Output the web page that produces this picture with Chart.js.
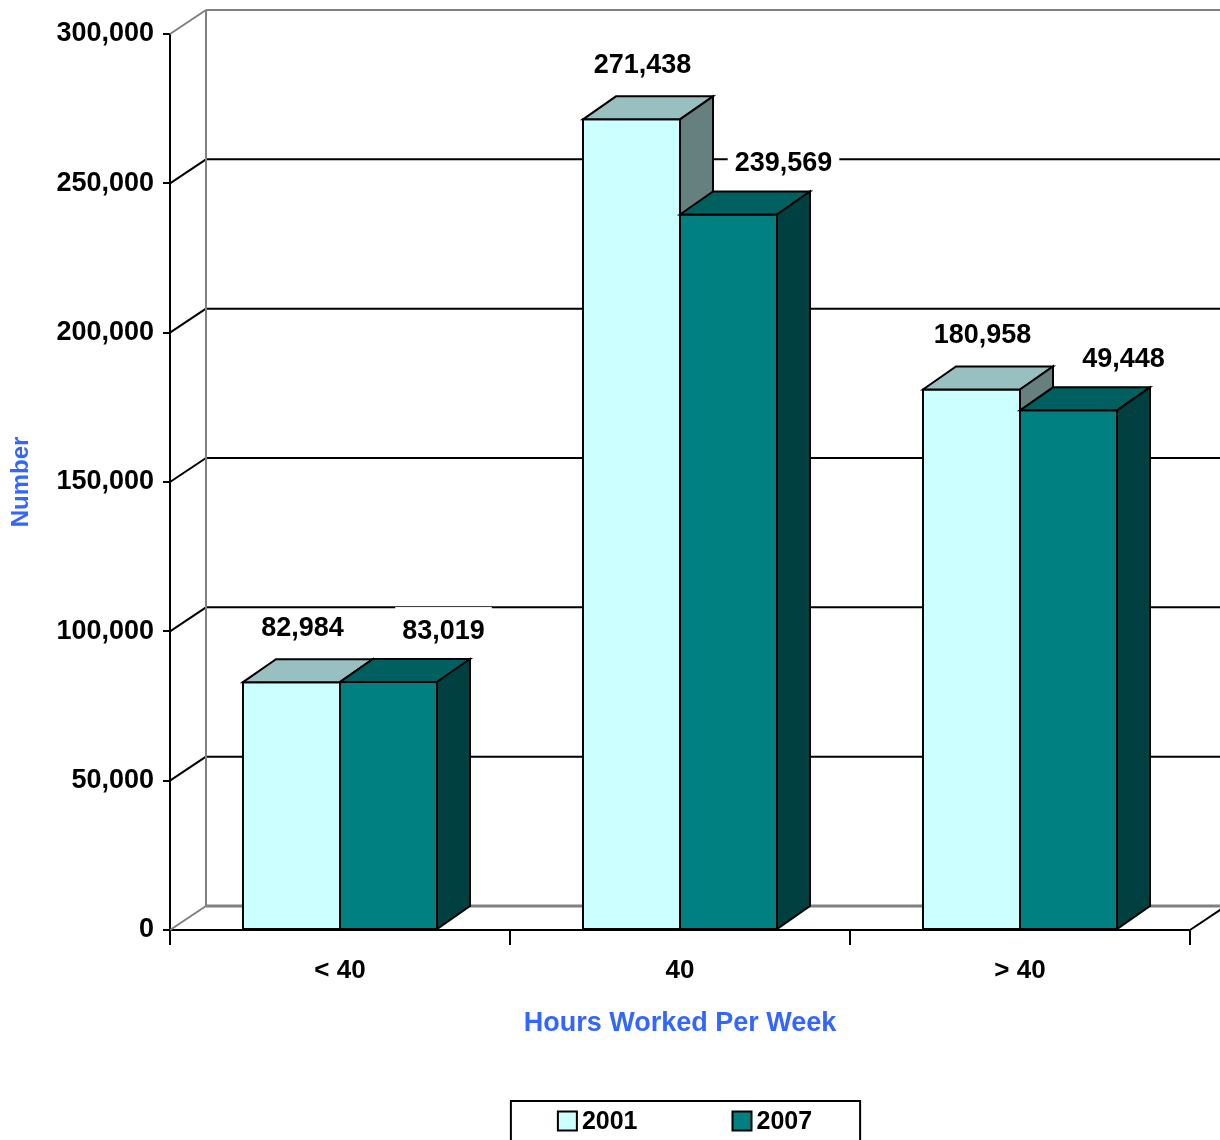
<!DOCTYPE html>
<html>
<head>
<meta charset="utf-8">
<title>Hours Worked Per Week</title>
<script src="https://cdn.jsdelivr.net/npm/chart.js@4.4.1/dist/chart.umd.min.js"></script>
<style>
  html, body { margin: 0; padding: 0; background: #fff; }
  canvas { display: block; }
</style>
</head>
<body>
<canvas id="hours-chart" width="1220" height="1140"></canvas>
<script>
// Hours worked per week, 2001 vs 2007
const categories = ['< 40', '40', '> 40'];
const years = ['2001', '2007'];
const values2001 = [82984, 271438, 180958];
const values2007 = [83019, 239569, 174000];
// printed value labels
const labels2001 = ['82,984', '271,438', '180,958'];
const labels2007 = ['83,019', '239,569', '49,448'];
const yTicks = [0, 50000, 100000, 150000, 200000, 250000, 300000];

const FONT = '"Liberation Sans", Arial, Helvetica, sans-serif';
const BLUE = '#3366ff';

// depth of the back wall and of the boxes
const WALL_DX = 36, WALL_DY = -24;
const BAR_DX = 33, BAR_DY = -23;

const palette = [
  { front: '#ccffff', top: '#99c0c0', side: '#668080' },
  { front: '#008080', top: '#006060', side: '#004040' }
];

function drawPoly(ctx, pts, fill) {
  ctx.beginPath();
  ctx.moveTo(pts[0][0], pts[0][1]);
  for (let i = 1; i < pts.length; i++) ctx.lineTo(pts[i][0], pts[i][1]);
  ctx.closePath();
  ctx.fillStyle = fill;
  ctx.fill();
  ctx.stroke();
}

function line(ctx, x1, y1, x2, y2, color, width) {
  ctx.beginPath();
  ctx.moveTo(x1, y1);
  ctx.lineTo(x2, y2);
  ctx.strokeStyle = color;
  ctx.lineWidth = width;
  ctx.stroke();
}

const box3d = {
  id: 'box3d',
  beforeDatasetsDraw(chart) {
    const { ctx, chartArea: area, scales: { y } } = chart;
    const backLeft = area.left + WALL_DX;
    const wallRight = chart.width;
    ctx.save();
    ctx.lineCap = 'butt';
    // back wall gridlines and their links to the front axis
    yTicks.forEach(v => {
      const py = y.getPixelForValue(v);
      const edge = (v === 0 || v === yTicks[yTicks.length - 1]);
      const color = edge ? '#808080' : '#000';
      line(ctx, area.left, py, backLeft, py + WALL_DY, color, 2);
      line(ctx, backLeft, py + WALL_DY, wallRight, py + WALL_DY, color, v === 0 ? 3 : 2);
    });
    // left edge of the back wall
    line(ctx, backLeft, y.getPixelForValue(yTicks[yTicks.length - 1]) + WALL_DY,
         backLeft, y.getPixelForValue(0) + WALL_DY, '#808080', 2);
    // right edge of the floor
    line(ctx, area.right, area.bottom, area.right + WALL_DX, area.bottom + WALL_DY, '#000', 2);
    ctx.restore();
  },
  beforeDatasetDraw() {
    // boxes are drawn below, all at once
    return false;
  },
  afterDatasetsDraw(chart) {
    const { ctx } = chart;
    const metas = chart.data.datasets.map((d, i) => chart.getDatasetMeta(i));
    ctx.save();
    ctx.strokeStyle = '#000';
    ctx.lineWidth = 2;
    ctx.lineJoin = 'miter';
    categories.forEach((c, idx) => {
      metas.forEach((meta, di) => {
        const bar = meta.data[idx];
        const { x, y, base, width } = bar.getProps(['x', 'y', 'base', 'width'], true);
        const L = x - width / 2, R = x + width / 2;
        const col = palette[di];
        drawPoly(ctx, [[L, y], [R, y], [R, base], [L, base]], col.front);
        drawPoly(ctx, [[L, y], [L + BAR_DX, y + BAR_DY], [R + BAR_DX, y + BAR_DY], [R, y]], col.top);
        drawPoly(ctx, [[R, y], [R + BAR_DX, y + BAR_DY], [R + BAR_DX, base + BAR_DY], [R, base]], col.side);
      });
    });

    // value labels, the 2007 ones sit on white boxes
    ctx.font = 'bold 27px ' + FONT;
    ctx.textAlign = 'center';
    ctx.textBaseline = 'middle';
    chart.data.datasets.forEach((ds, di) => {
      const meta = metas[di];
      ds.valueLabels.forEach((txt, idx) => {
        const bar = meta.data[idx];
        const { x, y } = bar.getProps(['x', 'y'], true);
        const lx = x + ds.labelShift.x;
        const ly = y + ds.labelShift.y;
        if (ds.labelBox) {
          const w = ctx.measureText(txt).width;
          ctx.fillStyle = '#fff';
          ctx.fillRect(lx - w / 2 - 7, ly - 23, w + 14, 44);
        }
        ctx.fillStyle = '#000';
        ctx.fillText(txt, lx, ly + 1);
      });
    });
    ctx.restore();
  },
  afterDraw(chart) {
    // boxed legend under the axis title
    const { ctx, chartArea: area } = chart;
    const cx = (area.left + area.right) / 2;
    const cy = 1121;
    ctx.save();
    ctx.font = 'bold 25px ' + FONT;
    ctx.textBaseline = 'middle';
    ctx.textAlign = 'left';
    const sw = 19, gapText = 5, gapItem = 95;
    const widths = years.map(t => ctx.measureText(t).width);
    const total = widths.reduce((a, w) => a + sw + gapText + w, 0) + gapItem;
    let lx = cx - total / 2 + 5;
    ctx.strokeStyle = '#000';
    ctx.lineWidth = 2;
    ctx.strokeRect(lx - 47, cy - 20, total + 95, 60);
    chart.data.datasets.forEach((ds, i) => {
      ctx.fillStyle = ds.backgroundColor;
      ctx.fillRect(lx, cy - sw / 2, sw, sw);
      ctx.strokeRect(lx, cy - sw / 2, sw, sw);
      ctx.fillStyle = '#000';
      ctx.fillText(ds.label, lx + sw + gapText, cy + 1);
      lx += sw + gapText + widths[i] + gapItem;
    });
    ctx.restore();
  }
};

new Chart(document.getElementById('hours-chart'), {
  type: 'bar',
  data: {
    labels: categories,
    datasets: [{
      label: years[0],
      data: values2001,
      valueLabels: labels2001,
      labelShift: { x: 11, y: -55 },
      labelBox: false,
      backgroundColor: palette[0].front,
      borderColor: '#000',
      borderWidth: 2
    }, {
      label: years[1],
      data: values2007,
      valueLabels: labels2007,
      labelShift: { x: 55, y: -52 },
      labelBox: true,
      backgroundColor: palette[1].front,
      borderColor: '#000',
      borderWidth: 2
    }]
  },
  options: {
    responsive: false,
    animation: false,
    devicePixelRatio: 1,
    categoryPercentage: 0.5706,
    barPercentage: 1,
    layout: {
      padding: { top: 34, right: 30, bottom: 100, left: 0 }
    },
    plugins: {
      legend: { display: false },
      tooltip: { enabled: false }
    },
    scales: {
      x: {
        offset: true,
        grid: {
          offset: true,
          drawOnChartArea: false,
          drawTicks: true,
          tickLength: 15,
          color: '#000',
          lineWidth: 2
        },
        border: { display: true, color: '#000', width: 2 },
        ticks: {
          color: '#000',
          padding: 10,
          font: { family: FONT, size: 26, weight: 'bold' }
        },
        title: {
          display: true,
          text: 'Hours Worked Per Week',
          color: BLUE,
          padding: { top: 0, bottom: 0 },
          font: { family: FONT, size: 27, weight: 'bold' }
        },
        afterFit(scale) {
          scale.height = 110;
        }
      },
      y: {
        min: 0,
        max: 300000,
        afterBuildTicks(scale) {
          scale.ticks = yTicks.map(v => ({ value: v }));
        },
        grid: {
          drawOnChartArea: false,
          drawTicks: true,
          tickLength: 7,
          color: '#000',
          lineWidth: 2
        },
        border: { display: true, color: '#000', width: 2 },
        ticks: {
          color: '#000',
          padding: 9,
          font: { family: FONT, size: 27, weight: 'bold' },
          callback: value => value.toLocaleString('en-US')
        },
        title: {
          display: true,
          text: 'Number',
          color: BLUE,
          padding: { top: 7, bottom: 0 },
          font: { family: FONT, size: 24, weight: 'bold' }
        },
        afterFit(scale) {
          scale.width = 170;
        }
      }
    }
  },
  plugins: [box3d]
});
</script>
</body>
</html>
